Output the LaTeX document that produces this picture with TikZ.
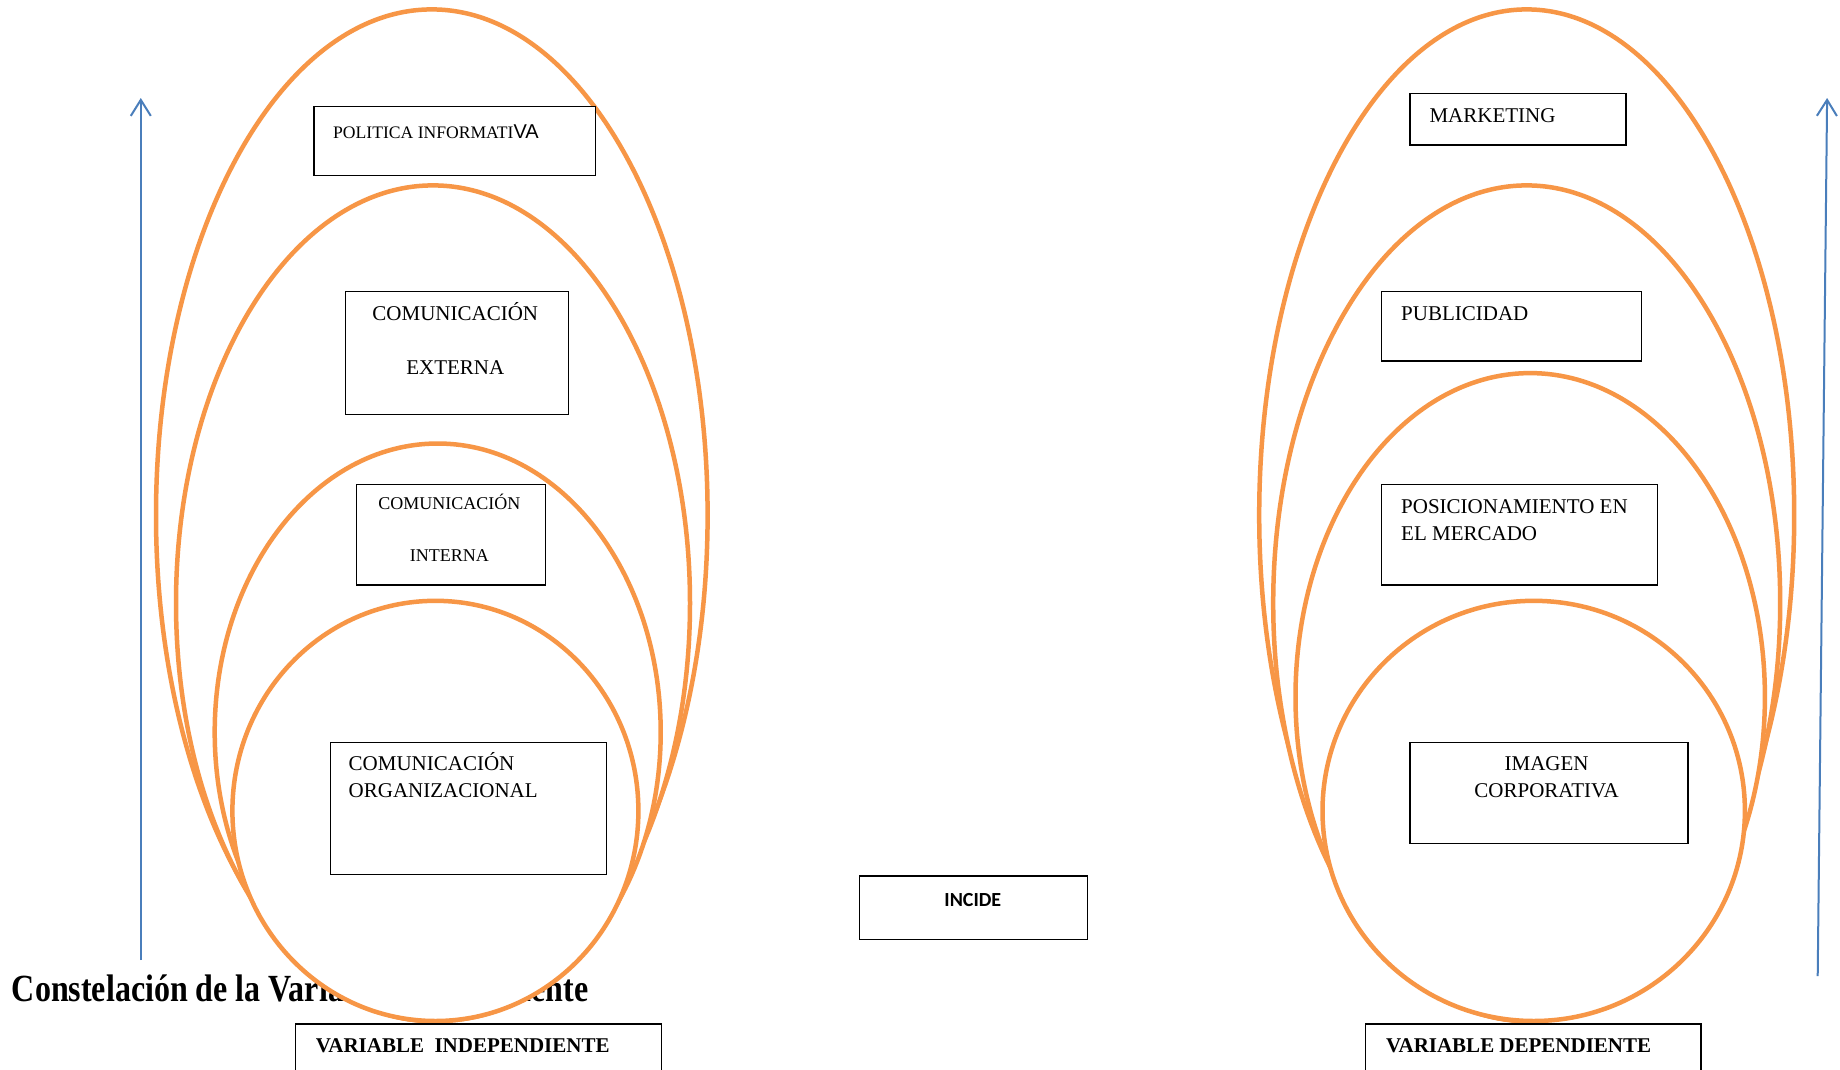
\documentclass[tikz,border=0pt]{standalone}
\usepackage{fontspec}
\setmainfont{Liberation Serif}
\newfontfamily\arialfont{Liberation Sans}
\newfontfamily\calibrifont{Carlito}
\usetikzlibrary{arrows.meta,calc}
\definecolor{orng}{HTML}{F79646}
\definecolor{blu}{HTML}{4A7EBB}
\begin{document}
\begin{tikzpicture}[x=1pt,y=-1pt,
  ring/.style={draw=orng, line width=4.5pt, fill=white},
  box/.style={draw=black, line width=1.2pt, fill=white, inner sep=0pt, anchor=north west},
  lbl/.style={inner sep=0pt, font=\fontsize{21}{25}\selectfont},
  axis/.style={draw=blu, line width=2pt, -{Straight Barb[length=16pt,width=20pt]}}]
\clip (0,0) rectangle (1840,1069);
\fill[white] (0,0) rectangle (1840,1069);
% title (partly hidden behind the rings)
\node[inner sep=0pt, anchor=base west, font=\bfseries\fontsize{32}{38}\selectfont] (title) at (11.7,1001)
  {\scalebox{1}[1.2]{Constelación de la Variable Independiente}};
% axes
\coordinate (la0) at (140.8,960);
\coordinate (la1) at (140.8,98);
\draw[axis] (la0) -- (la1);
\coordinate (ra0) at (1817.7,976);
\coordinate (ra1) at (1827.1,98);
\draw[axis] (ra0) -- (ra1);
% left rings
\draw[ring] (431.8,515.2) ellipse [x radius=275.8pt, y radius=505.8pt];
\draw[ring] (433.0,603.2) ellipse [x radius=257.0pt, y radius=417.8pt];
\draw[ring] (437.7,732.2) ellipse [x radius=223.0pt, y radius=288.7pt];
\draw[ring] (435.4,810.9) ellipse [x radius=203.0pt, y radius=210.1pt];
% right rings
\draw[ring] (1526.7,515.2) ellipse [x radius=267.5pt, y radius=505.8pt];
\draw[ring] (1526.7,603.2) ellipse [x radius=253.5pt, y radius=417.8pt];
\draw[ring] (1530.2,697.0) ellipse [x radius=234.7pt, y radius=323.9pt];
\draw[ring] (1533.7,810.9) ellipse [x radius=211.2pt, y radius=210.1pt];
% left boxes
\node[box, minimum width=281.7pt, minimum height=69.2pt] (pol) at (313.3,105.6) {};
\node[lbl, anchor=base west, font=\fontsize{17.6}{20}\selectfont] (polt) at (333,138)
  {POLITICA INFORMATI{\arialfont\fontsize{20}{24}\selectfont VA}};
\node[box, minimum width=223pt, minimum height=123.2pt] (ext) at (345.0,291.0) {};
\node[lbl, anchor=base] (ext1) at (455.3,320) {COMUNICACIÓN};
\node[lbl, anchor=base] (ext2) at (455.3,374) {EXTERNA};
\node[box, minimum width=188.9pt, minimum height=100.9pt] (int) at (355.6,483.5) {};
\node[lbl, anchor=base, font=\fontsize{18}{21}\selectfont] (int1) at (449.4,509.5) {COMUNICACIÓN};
\node[lbl, anchor=base, font=\fontsize{18}{21}\selectfont] (int2) at (449.4,561) {INTERNA};
\node[box, minimum width=275.8pt, minimum height=132.6pt] (org) at (329.7,741.6) {};
\node[lbl, anchor=base west] (org1) at (348.5,770) {COMUNICACIÓN};
\node[lbl, anchor=base west] (org2) at (348.5,797) {ORGANIZACIONAL};
\node[box, minimum width=366.2pt, minimum height=80pt] (vi) at (294.5,1023.3) {};
\node[lbl, anchor=base west, font=\bfseries\fontsize{21}{25}\selectfont] (vit) at (315.7,1052.5) {VARIABLE\ \ INDEPENDIENTE};
% middle
\node[box, minimum width=227.6pt, minimum height=63.4pt] (inc) at (859.0,875.4) {};
\node[lbl, anchor=base, font=\calibrifont\bfseries\fontsize{20}{24}\selectfont] (inct) at (972.8,906) {INCIDE};
% right boxes
\node[box, minimum width=216pt, minimum height=51.6pt] (mkt) at (1409.3,92.7) {};
\node[lbl, anchor=base west] (mktt) at (1429.3,122) {MARKETING};
\node[box, minimum width=259.3pt, minimum height=69.3pt] (pub) at (1381.2,291.0) {};
\node[lbl, anchor=base west] (pubt) at (1401,320) {PUBLICIDAD};
\node[box, minimum width=275.8pt, minimum height=100.9pt] (pos) at (1381.2,483.5) {};
\node[lbl, anchor=base west] (pos1) at (1401,513) {POSICIONAMIENTO EN};
\node[lbl, anchor=base west] (pos2) at (1401,540) {EL MERCADO};
\node[box, minimum width=278.1pt, minimum height=101pt] (img) at (1409.3,741.6) {};
\node[lbl, anchor=base] (img1) at (1546.6,770) {IMAGEN};
\node[lbl, anchor=base] (img2) at (1546.6,797) {CORPORATIVA};
\node[box, minimum width=335.7pt, minimum height=80pt] (vd) at (1364.7,1023.3) {};
\node[lbl, anchor=base west, font=\bfseries\fontsize{21}{25}\selectfont] (vdt) at (1385.9,1052.5) {VARIABLE DEPENDIENTE};
\end{tikzpicture}
\end{document}
